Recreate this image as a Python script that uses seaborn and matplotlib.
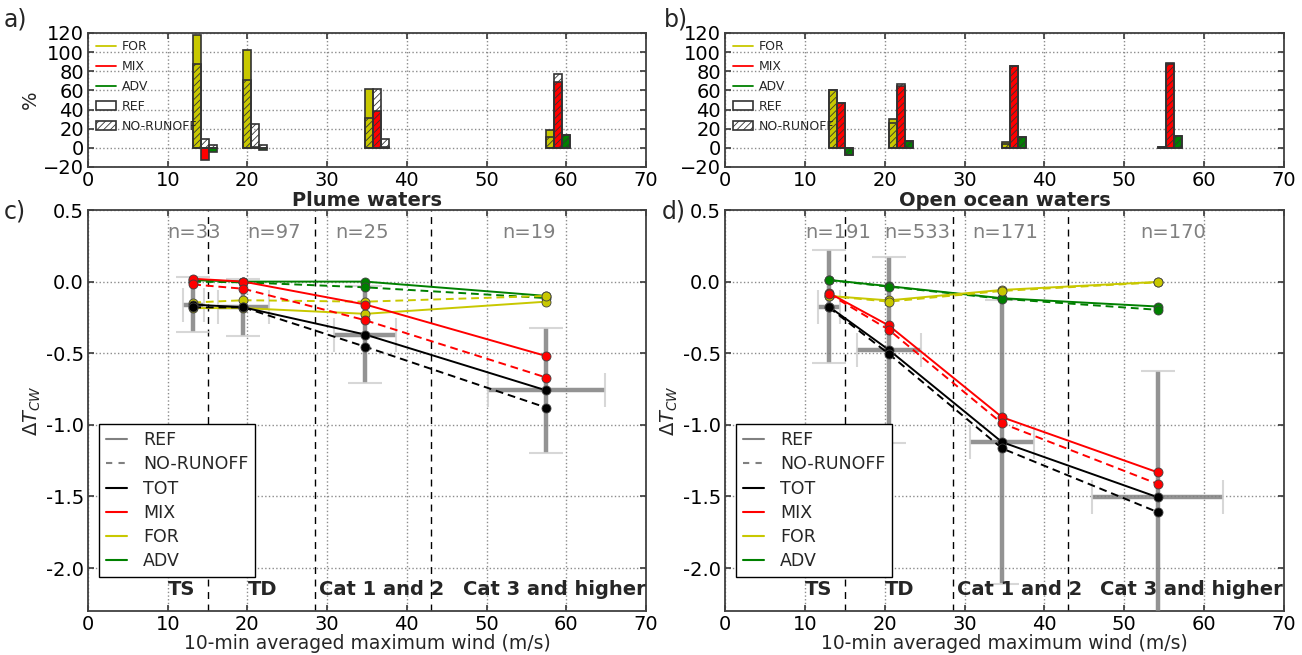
import numpy as np
import pandas as pd
import matplotlib
matplotlib.use("Agg")
import matplotlib.pyplot as plt
import seaborn as sns
from matplotlib.lines import Line2D
from matplotlib.patches import Patch

# ---------------- data ----------------
categories = ["TS", "TD", "Cat 1 and 2", "Cat 3 and higher"]
cat_label_x = [10, 20, 29, 47]
n_label_x = [10, 20, 31, 52]
category_bounds = [15, 28.5, 43]

plume_n = [33, 97, 25, 19]
ocean_n = [191, 533, 171, 170]

plume_wind = [13.2, 19.5, 34.8, 57.5]
plume_wind_err = [1.3, 3.2, 3.9, 7.3]
ocean_wind = [13.0, 20.5, 34.7, 54.2]
ocean_wind_err = [1.35, 4.0, 4.0, 8.2]

plume_ref_err = [0.19, 0.20, 0.34, 0.435]
ocean_ref_err = [0.395, 0.65, 0.99, 0.88]

# contributions (%) : REF / NO-RUNOFF
plume_for_ref = [118, 102, 61, 19]
plume_for_nr = [88, 71, 31, 11]
plume_mix_ref = [-13, 1, 39, 69]
plume_mix_nr = [9, 25, 61, 77]
plume_adv_ref = [-4, -2, 1, 13]
plume_adv_nr = [3, 3, 9, 13]

ocean_for_ref = [60, 30, 6, 0.5]
ocean_for_nr = [60, 26, 4, 0.5]
ocean_mix_ref = [47, 65, 85, 89]
ocean_mix_nr = [47, 67, 85, 88]
ocean_adv_ref = [-7, 7, 11, 12]
ocean_adv_nr = [-7, 7, 11, 12]

# cold wake Delta T
plume_tot_ref = [-0.16, -0.18, -0.37, -0.76]
plume_tot_nr = [-0.18, -0.18, -0.455, -0.88]
plume_mixT_ref = [0.02, 0.0, -0.16, -0.52]
plume_mixT_nr = [-0.02, -0.05, -0.27, -0.67]
plume_forT_ref = [-0.185, -0.185, -0.225, -0.14]
plume_forT_nr = [-0.146, -0.13, -0.14, -0.10]
plume_advT_ref = [0.01, 0.0, 0.0, -0.10]
plume_advT_nr = [0.0, -0.005, -0.04, -0.115]

ocean_tot_ref = [-0.174, -0.476, -1.121, -1.506]
ocean_tot_nr = [-0.18, -0.504, -1.165, -1.61]
ocean_mixT_ref = [-0.079, -0.306, -0.947, -1.332]
ocean_mixT_nr = [-0.085, -0.336, -0.99, -1.413]
ocean_forT_ref = [-0.10, -0.131, -0.058, -0.002]
ocean_forT_nr = [-0.10, -0.14, -0.065, -0.005]
ocean_advT_ref = [0.012, -0.032, -0.116, -0.174]
ocean_advT_nr = [0.01, -0.035, -0.12, -0.197]

# ---------------- style ----------------
sns.set_theme(style="whitegrid", rc={
    "grid.linestyle": ":", "grid.color": "0.55", "grid.linewidth": 1.0,
    "axes.edgecolor": "0.25", "axes.linewidth": 1.3,
    "xtick.direction": "in", "ytick.direction": "in",
    "xtick.top": True, "ytick.right": True,
    "xtick.bottom": True, "ytick.left": True,
    "xtick.major.size": 4, "ytick.major.size": 4,
    "xtick.color": "0.25", "ytick.color": "0.25",
    "xtick.labelcolor": "black", "ytick.labelcolor": "black",
})
plt.rcParams["font.family"] = ["DejaVu Sans"]
plt.rcParams["hatch.linewidth"] = 0.6

C_FOR, C_MIX, C_ADV, C_TOT = "#c8c800", "#ff0000", "#008000", "#000000"

W, H = 1302, 655
fig = plt.figure(figsize=(W / 100, H / 100), dpi=100)

def fr(l, t, r, b):
    return [l / W, 1 - b / H, (r - l) / W, (b - t) / H]

ax_a = fig.add_axes(fr(88, 33, 646, 167))
ax_b = fig.add_axes(fr(725, 33, 1284, 167))
ax_c = fig.add_axes(fr(88, 210, 646, 611))
ax_d = fig.add_axes(fr(725, 210, 1284, 611))


def bars(ax, wind, refs, nrs, ylab):
    cols = [C_FOR, C_MIX, C_ADV]
    for k, (ref, nr, col) in enumerate(zip(refs, nrs, cols)):
        x = np.array(wind) + k
        ax.bar(x, ref, width=1, align="edge", color=col, edgecolor="0.2",
               linewidth=1.2, zorder=3)
        ax.bar(x, nr, width=1, align="edge", fill=False, hatch="/////",
               edgecolor="0.2", linewidth=1.2, zorder=4)
    ax.set_xlim(0, 70)
    ax.set_ylim(-20, 120)
    ax.set_xticks(range(0, 71, 10))
    ax.set_yticks(range(-20, 121, 20))
    ax.tick_params(labelsize=14, pad=3)
    if ylab:
        ax.set_ylabel("%", fontsize=14, labelpad=2)
    handles = [Line2D([], [], color=C_FOR, lw=1.3), Line2D([], [], color=C_MIX, lw=1.3),
               Line2D([], [], color=C_ADV, lw=1.3),
               Patch(facecolor="white", edgecolor="0.2", lw=1.2),
               Patch(facecolor="white", edgecolor="0.2", lw=1.2, hatch="/////")]
    ax.legend(handles, ["FOR", "MIX", "ADV", "REF", "NO-RUNOFF"], loc="upper left",
              frameon=False, fontsize=9, handlelength=1.6, labelspacing=0.55,
              borderaxespad=0.2, handletextpad=0.5)


bars(ax_a, plume_wind, [plume_for_ref, plume_mix_ref, plume_adv_ref],
     [plume_for_nr, plume_mix_nr, plume_adv_nr], True)
bars(ax_b, ocean_wind, [ocean_for_ref, ocean_mix_ref, ocean_adv_ref],
     [ocean_for_nr, ocean_mix_nr, ocean_adv_nr], False)


def lines(ax, wind, wind_err, ref_err, series, ns, title):
    rows = []
    for comp, (ref, nr) in series.items():
        for run, vals in (("REF", ref), ("NO-RUNOFF", nr)):
            for w, v in zip(wind, vals):
                rows.append({"wind": w, "dT": v, "comp": comp, "run": run})
    df = pd.DataFrame(rows)
    for b in category_bounds:
        ax.axvline(b, color="black", ls=(0, (5, 4)), lw=1.0, zorder=2)
    eb = ax.errorbar(wind, series["TOT"][0], xerr=wind_err, yerr=ref_err, fmt="none",
                     ecolor="0.5", elinewidth=3.2, capsize=12, capthick=1.5,
                     alpha=0.85, zorder=3)
    for cap in eb[1]:
        cap.set_color("0.82")
        cap.set_markeredgecolor("0.82")
        cap.set_markerfacecolor("0.82")
    pal = {"TOT": C_TOT, "MIX": C_MIX, "FOR": C_FOR, "ADV": C_ADV}
    sns.lineplot(data=df, x="wind", y="dT", hue="comp", style="run", palette=pal,
                 hue_order=["ADV", "FOR", "MIX", "TOT"],
                 dashes={"REF": "", "NO-RUNOFF": (4, 2.5)},
                 markers={"REF": "o", "NO-RUNOFF": "o"}, markersize=6.5,
                 markeredgecolor="0.25", markeredgewidth=0.6, lw=1.4,
                 sort=False, legend=False, ax=ax, zorder=5)
    ax.set_xlim(0, 70)
    ax.set_ylim(-2.3, 0.5)
    ax.set_xticks(range(0, 71, 10))
    ax.set_yticks(np.arange(-2.0, 0.51, 0.5))
    ax.yaxis.set_major_formatter(matplotlib.ticker.FormatStrFormatter("%.1f"))
    ax.tick_params(labelsize=14, pad=3)
    ax.set_xlabel("10-min averaged maximum wind (m/s)", fontsize=13.5, labelpad=0)
    ax.set_ylabel(r"$\Delta T_{CW}$", fontsize=14, labelpad=2)
    ax.set_title(title, fontsize=14, fontweight="bold", pad=2)
    for x, n in zip(n_label_x, ns):
        ax.text(x, 0.34, f"n={n}", color="0.5", fontsize=14, ha="left", va="center")
    for x, c in zip(cat_label_x, categories):
        ax.text(x, -2.15, c, fontsize=14, fontweight="bold", ha="left", va="center")
    handles = [Line2D([], [], color="0.5", lw=1.5),
               Line2D([], [], color="0.5", lw=1.5, ls=(0, (3, 3))),
               Line2D([], [], color=C_TOT, lw=1.5), Line2D([], [], color=C_MIX, lw=1.5),
               Line2D([], [], color=C_FOR, lw=1.5), Line2D([], [], color=C_ADV, lw=1.5)]
    leg = ax.legend(handles, ["REF", "NO-RUNOFF", "TOT", "MIX", "FOR", "ADV"],
                    loc="lower left", bbox_to_anchor=(0.019, 0.084), borderaxespad=0,
                    fontsize=12.5, frameon=True, fancybox=False, framealpha=1,
                    edgecolor="black", handlelength=1.25, handletextpad=0.9,
                    labelspacing=0.36)
    leg.get_frame().set_linewidth(1.0)
    leg.set_zorder(10)


lines(ax_c, plume_wind, plume_wind_err, plume_ref_err,
      {"TOT": (plume_tot_ref, plume_tot_nr), "MIX": (plume_mixT_ref, plume_mixT_nr),
       "FOR": (plume_forT_ref, plume_forT_nr), "ADV": (plume_advT_ref, plume_advT_nr)},
      plume_n, "Plume waters")
lines(ax_d, ocean_wind, ocean_wind_err, ocean_ref_err,
      {"TOT": (ocean_tot_ref, ocean_tot_nr), "MIX": (ocean_mixT_ref, ocean_mixT_nr),
       "FOR": (ocean_forT_ref, ocean_forT_nr), "ADV": (ocean_advT_ref, ocean_advT_nr)},
      ocean_n, "Open ocean waters")

for lab, x, y in (("a)", 4, 20), ("b)", 664, 20), ("c)", 4, 212), ("d)", 662, 212)):
    fig.text(x / W, 1 - y / H, lab, fontsize=17, ha="left", va="center")

fig.savefig("out.png", dpi=100)
